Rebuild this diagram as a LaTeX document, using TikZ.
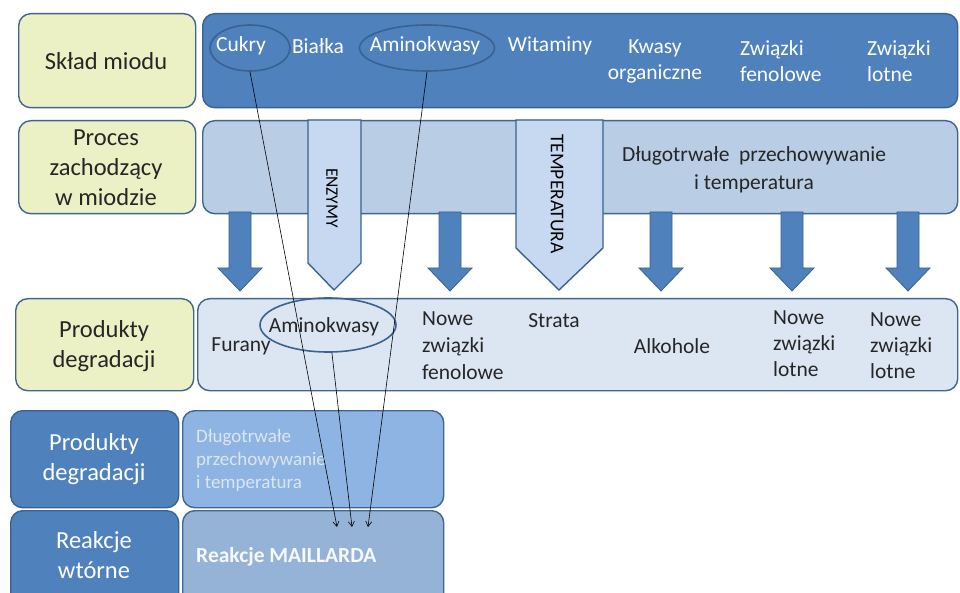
\documentclass[tikz,border=0pt]{standalone}
\usepackage{fontspec}
\setmainfont{Carlito}
\usetikzlibrary{shapes.geometric,arrows.meta}
\definecolor{yel}{HTML}{EBF1C5}
\definecolor{edge}{HTML}{41658F}
\definecolor{edgeB}{HTML}{3A6290}
\definecolor{blueA}{HTML}{4F81BD}
\definecolor{blueB}{HTML}{B9CDE5}
\definecolor{blueC}{HTML}{C6D9F1}
\definecolor{blueD}{HTML}{DCE6F2}
\definecolor{blueE}{HTML}{8DB4E2}
\definecolor{blueF}{HTML}{95B3D7}
\definecolor{txt}{HTML}{262626}
\definecolor{paleT}{HTML}{DCE6F2}
\newcommand\blockarr[1]{\draw[barr] ({#1-11},212) -- ({#1+11},212) -- ({#1+11},268) -- ({#1+22},268) -- (#1,291) -- ({#1-22},268) -- ({#1-11},268) -- cycle;}
\begin{document}
\begin{tikzpicture}[x=1pt,y=-1pt,
  box/.style={draw=edge, line width=1.4pt, rounded corners=12pt, inner sep=0pt, anchor=north west},
  lab/.style={font=\fontsize{24.5}{30}\selectfont, text=txt, align=center},
  wlab/.style={font=\fontsize{24.5}{30}\selectfont, text=white, align=center},
  itm/.style={font=\fontsize{21.5}{26.5}\selectfont, text=txt, inner sep=0pt},
  witm/.style={font=\fontsize{21.5}{26}\selectfont, text=white, inner sep=0pt},
  ell/.style={ellipse, draw=edgeB, line width=1.6pt, inner sep=0pt},
  barr/.style={fill=blueA, draw=edgeB, line width=0.8pt},
  penta/.style={fill=blueC, draw=edgeB, line width=1.4pt},
  vtext/.style={text=black, rotate=-90, inner sep=0pt},
  conn/.style={draw=black, line width=0.6pt, -{Straight Barb[length=5pt,width=6pt]}}]
\useasboundingbox (0,0) rectangle (960,593);
\clip (0,0) rectangle (960,593);
\fill[white] (0,0) rectangle (960,593);
% row 1
\node[box, fill=yel, minimum width=177pt, minimum height=94pt] (s1) at (18,13) {};
\node[lab] (s1t) at (106,61) {Skład miodu};
\node[box, fill=blueA, draw=edgeB, minimum width=755pt, minimum height=94pt] (r1) at (202,13) {};
% row 2
\node[box, fill=yel, minimum width=177pt, minimum height=93pt] (s2) at (18,120) {};
\node[lab] (s2t) at (106,168) {Proces\\zachodzący\\w miodzie};
\node[box, fill=blueB, minimum width=755pt, minimum height=93pt] (r2) at (202,120) {};
% row 3
\node[box, fill=yel, minimum width=178pt, minimum height=92pt] (s3) at (15,298) {};
\node[lab] (s3t) at (104,346) {Produkty\\degradacji};
\node[box, fill=blueD, minimum width=760pt, minimum height=92pt] (r3) at (197,298) {};
% row 4
\node[box, fill=blueA, draw=edgeB, minimum width=168pt, minimum height=97pt] (s4) at (10,410) {};
\node[wlab] (s4t) at (94,459) {Produkty\\degradacji};
\node[box, fill=blueE, minimum width=261pt, minimum height=97pt] (r4) at (182,410) {};
% row 5
\node[box, fill=blueA, draw=edgeB, minimum width=168pt, minimum height=100pt] (s5) at (10,510) {};
\node[wlab] (s5t) at (94,555) {Reakcje\\wtórne};
\node[box, fill=blueF, minimum width=261pt, minimum height=100pt] (r5) at (182,510) {};
% row 1 items
\node[ell, minimum width=80pt, minimum height=46pt] (cuk) at (250,48) {};
\node[ell, minimum width=135pt, minimum height=46pt] (amk) at (427,48) {};
\node[witm] (i1) at (241,46) {Cukry};
\node[witm] (i2) at (318,46) {Białka};
\node[witm] (i3) at (425,46) {Aminokwasy};
\node[witm] (i4) at (550,46) {Witaminy};
\node[witm, align=center] (i5) at (655,61) {Kwasy\\organiczne};
\node[witm, align=left, anchor=west] (i6) at (740,61) {Związki\\fenolowe};
\node[witm, align=left, anchor=west] (i7) at (867,61) {Związki\\lotne};
% row 2 item
\node[itm, align=center, font=\fontsize{21.5}{28}\selectfont] (p1) at (754,170) {Długotrwałe~~przechowywanie\\i temperatura};
% block arrows
\blockarr{240}
\blockarr{450}
\blockarr{661}
\blockarr{792}
\blockarr{908}
% pentagon arrows
\draw[penta] (308,120) -- (361,120) -- (361,263) -- (334,290) -- (308,263) -- cycle;
\draw[penta] (516,120) -- (603,120) -- (603,248) -- (559,290) -- (516,248) -- cycle;
\node[vtext, font=\fontsize{17.5}{20}\selectfont] (enz) at (332,198) {ENZYMY};
\node[vtext, font=\fontsize{19.5}{22}\selectfont] (tem) at (557,194) {TEMPERATURA};
% row 3 items
\node[ell, minimum width=136pt, minimum height=54pt] (am2) at (328,325) {};
\node[itm] (f1) at (241,346) {Furany};
\node[itm] (f2) at (324,327) {Aminokwasy};
\node[itm, align=left, anchor=west, font=\fontsize{21.5}{27}\selectfont] (f3) at (422,346) {Nowe\\związki\\fenolowe};
\node[itm] (f4) at (554,321) {Strata};
\node[itm] (f5) at (672,346) {Alkohole};
\node[itm, align=left, anchor=west, font=\fontsize{21.5}{26}\selectfont] (f6) at (773,344) {Nowe\\związki\\lotne};
\node[itm, align=left, anchor=west, font=\fontsize{21.5}{26}\selectfont] (f7) at (870,346) {Nowe\\związki\\lotne};
% row 4/5 items
\node[inner sep=0pt, align=left, anchor=west, text=paleT, font=\fontsize{19}{23}\selectfont] (d1) at (196,460) {Długotrwałe\\przechowywanie\\i temperatura};
\node[inner sep=0pt, anchor=west, text=white!92!blueF, font=\fontsize{21.5}{26}\selectfont\bfseries] (m1) at (196,557) {Reakcje MAILLARDA};
% connectors
\coordinate (t1) at (337,527);
\coordinate (t2) at (352,527);
\coordinate (t3) at (368,527);
\draw[conn] (cuk.south) -- (t1);
\draw[conn] (am2.-82) -- (t2);
\draw[conn] (amk.south) -- (t3);
\end{tikzpicture}
\end{document}
